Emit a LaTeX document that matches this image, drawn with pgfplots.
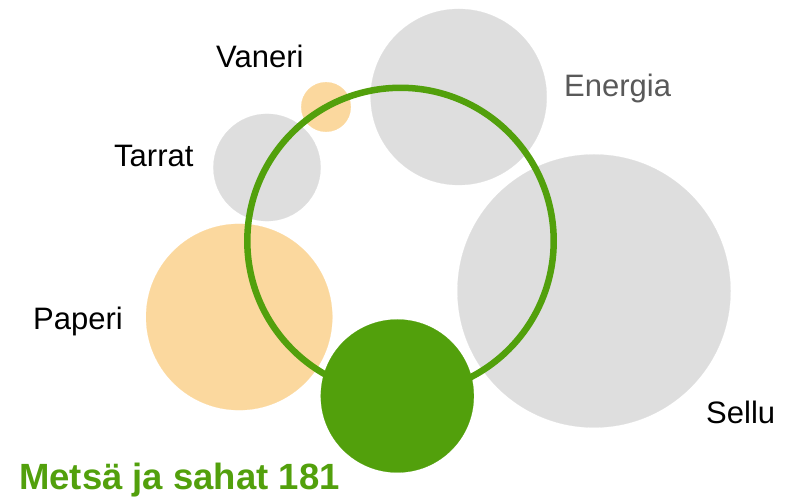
\documentclass[border=0pt]{standalone}
\usepackage{pgfplots}
\pgfplotsset{compat=1.18}
\usepackage{fontspec}
\setmainfont{Liberation Sans}
\definecolor{bubgray}{HTML}{DEDEDE}
\definecolor{bubor}{HTML}{FBD89E}
\definecolor{bubgreen}{HTML}{52A00C}
\definecolor{labgray}{HTML}{595959}
\pgfplotsset{
  bubble/.style 2 args={scatter, only marks, mark=#1, scatter src=explicit,
    scatter/use mapped color={#2},
    visualization depends on={\thisrow{r} \as \rad},
    scatter/@pre marker code/.append style={/tikz/mark size=\rad bp}}
}
\begin{document}
\begin{tikzpicture}
\begin{axis}[width=792bp, height=499bp, scale only axis,
  xmin=0, xmax=792, ymin=0, ymax=499, hide axis, clip=false]
% gray bubbles: Energia, Sellu, Tarrat
\addplot[bubble={*}{draw=bubgray, fill=bubgray, line width=0.2bp}] table[x=x, y=y, meta=r] {
x y r
458.7 402 88
594 208 136.5
267 331.5 53.6
};
% orange bubbles: Vaneri, Paperi
\addplot[bubble={*}{draw=bubor, fill=bubor, line width=0.2bp}] table[x=x, y=y, meta=r] {
x y r
326 392 24.8
239.2 182 93.1
};
% total ring
\addplot[line width=6.5bp, mark options={line width=6.5bp}, bubble={o}{draw=bubgreen, line width=6.5bp}] table[x=x, y=y, meta=r] {
x y r
400.5 258 153.2
};
% Metsä ja sahat
\addplot[bubble={*}{draw=bubgreen, fill=bubgreen, line width=0.2bp}] table[x=x, y=y, meta=r] {
x y r
397.3 103 76.5
};
\begin{scope}[every node/.style={inner sep=0pt, anchor=base west, font=\fontsize{31bp}{37bp}\selectfont}]
\node at (axis cs:216,431) {Vaneri};
\node[text=labgray] at (axis cs:564,402) {Energia};
\node at (axis cs:114,332.3) {Tarrat};
\node at (axis cs:33,169) {Paperi};
\node at (axis cs:706,75.7) {Sellu};
\node[text=bubgreen, font=\fontsize{36.5bp}{42bp}\selectfont\bfseries] at (axis cs:19,9) {Metsä ja sahat 181};
\end{scope}
\end{axis}
\pgfresetboundingbox
\path (0,0) rectangle (792bp,499bp);
\end{tikzpicture}
\end{document}
